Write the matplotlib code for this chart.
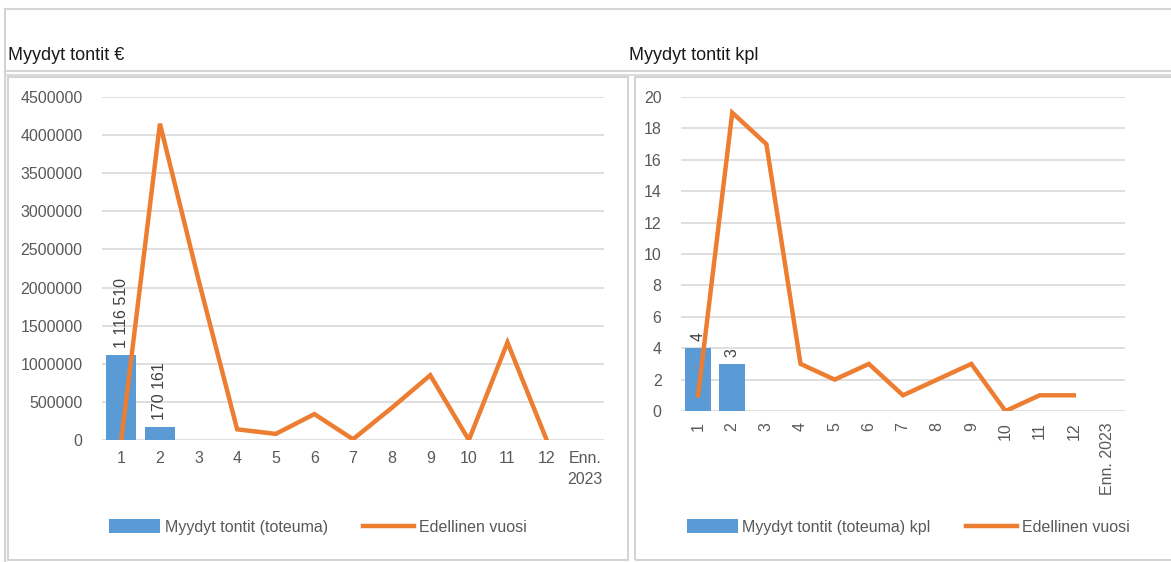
import matplotlib.pyplot as plt
from matplotlib.lines import Line2D
from matplotlib.patches import Rectangle, Patch
from matplotlib.ticker import FuncFormatter

# tiedot
kuukaudet = ["1", "2", "3", "4", "5", "6", "7", "8", "9", "10", "11", "12", "Enn.\n2023"]
kuukaudet_kpl = ["1", "2", "3", "4", "5", "6", "7", "8", "9", "10", "11", "12", "Enn. 2023"]

toteuma_eur = [1116510, 170161]
edellinen_eur = [0, 4150000, 2100000, 140000, 80000, 340000, 10000, 420000, 850000, 0, 1280000, 20000]
toteuma_kpl = [4, 3]
edellinen_kpl = [1, 19, 17, 3, 2, 3, 1, 2, 3, 0, 1, 1]

SININEN = "#5B9BD5"
ORANSSI = "#ED7D31"
HARMAA = "#595959"
W, H = 1171, 562

plt.rcParams['font.family'] = ['Liberation Sans', 'DejaVu Sans']

fig = plt.figure(figsize=(W / 100, H / 100), dpi=100)


def px(x0, y0, x1, y1):
    # pikselit -> kuvion koordinaatit
    return [x0 / W, 1 - y1 / H, (x1 - x0) / W, (y1 - y0) / H]


def fx(x):
    return x / W


def fy(y):
    return 1 - y / H


# kehykset
reuna = "#D4D4D4"
fig.add_artist(Line2D([fx(5), 1], [fy(9), fy(9)], color=reuna, lw=1.5))
fig.add_artist(Line2D([fx(5), fx(5)], [fy(9), 0], color=reuna, lw=1.5))
fig.add_artist(Line2D([fx(5), 1], [fy(71), fy(71)], color=reuna, lw=1.5))
fig.add_artist(Line2D([fx(5), 1], [fy(75), fy(75)], color=reuna, lw=1.2))
fig.add_artist(Rectangle((fx(8), fy(560)), fx(620), (560 - 77) / H, fill=False,
                         edgecolor=reuna, lw=1.5))
fig.add_artist(Rectangle((fx(635), fy(560)), fx(545), (560 - 77) / H, fill=False,
                         edgecolor=reuna, lw=1.5))

fig.text(fx(8), fy(55), "Myydyt tontit €", fontsize=13, va="center", ha="left", color="#1a1a1a")
fig.text(fx(629), fy(55), "Myydyt tontit kpl", fontsize=13, va="center", ha="left", color="#1a1a1a")


def piirra(ax, labels, bars, line, ymax, ystep, rot, bar_labels):
    x = list(range(len(labels)))
    ax.bar(x[:len(bars)], bars, width=0.77, color=SININEN, zorder=2)
    ax.plot(x[:len(line)], line, color=ORANSSI, lw=3.2, zorder=3, solid_joinstyle="miter")
    for xi, v, t in zip(x, bars, bar_labels):
        ax.annotate(t, (xi, v), xytext=(0, 5), textcoords="offset points", rotation=90,
                    ha="center", va="bottom", fontsize=11.5, color="#404040")
    ax.set_xlim(-0.5, len(labels) - 0.5)
    ax.set_ylim(0, ymax)
    ax.set_yticks(range(0, ymax + 1, ystep))
    ax.yaxis.set_major_formatter(FuncFormatter(lambda v, p: f"{int(round(v))}"))
    ax.set_xticks(x)
    if rot:
        ax.set_xticklabels(labels, rotation=90, va="top", ha="center")
    else:
        ax.set_xticklabels(labels, linespacing=1.5)
    ax.grid(axis="y", color="#D9D9D9", lw=1.2, zorder=0)
    ax.set_axisbelow(True)
    for s in ax.spines.values():
        s.set_visible(False)
    ax.tick_params(length=0, labelsize=11.5, colors=HARMAA, pad=8)
    ax.tick_params(axis="y", pad=14)


ax1 = fig.add_axes(px(102, 97, 604, 440))
piirra(ax1, kuukaudet, toteuma_eur, edellinen_eur, 4500000, 500000, False,
       ["1 116 510", "170 161"])

ax2 = fig.add_axes(px(681, 97, 1125, 411))
piirra(ax2, kuukaudet_kpl, toteuma_kpl, edellinen_kpl, 20, 2, True, ["4", "3"])

for ax, nimi, cx in [(ax1, "Myydyt tontit (toteuma)", 318), (ax2, "Myydyt tontit (toteuma) kpl", 908)]:
    kahvat = [Patch(facecolor=SININEN), Line2D([], [], color=ORANSSI, lw=3.2)]
    fig.legend(kahvat, [nimi, "Edellinen vuosi"], loc="center", bbox_to_anchor=(fx(cx), fy(527)),
               ncol=2, frameon=False, fontsize=11.5, labelcolor=HARMAA, handlelength=3.2,
               handleheight=0.9, handletextpad=0.3, columnspacing=2.2)

fig.savefig("out.png", dpi=100)
